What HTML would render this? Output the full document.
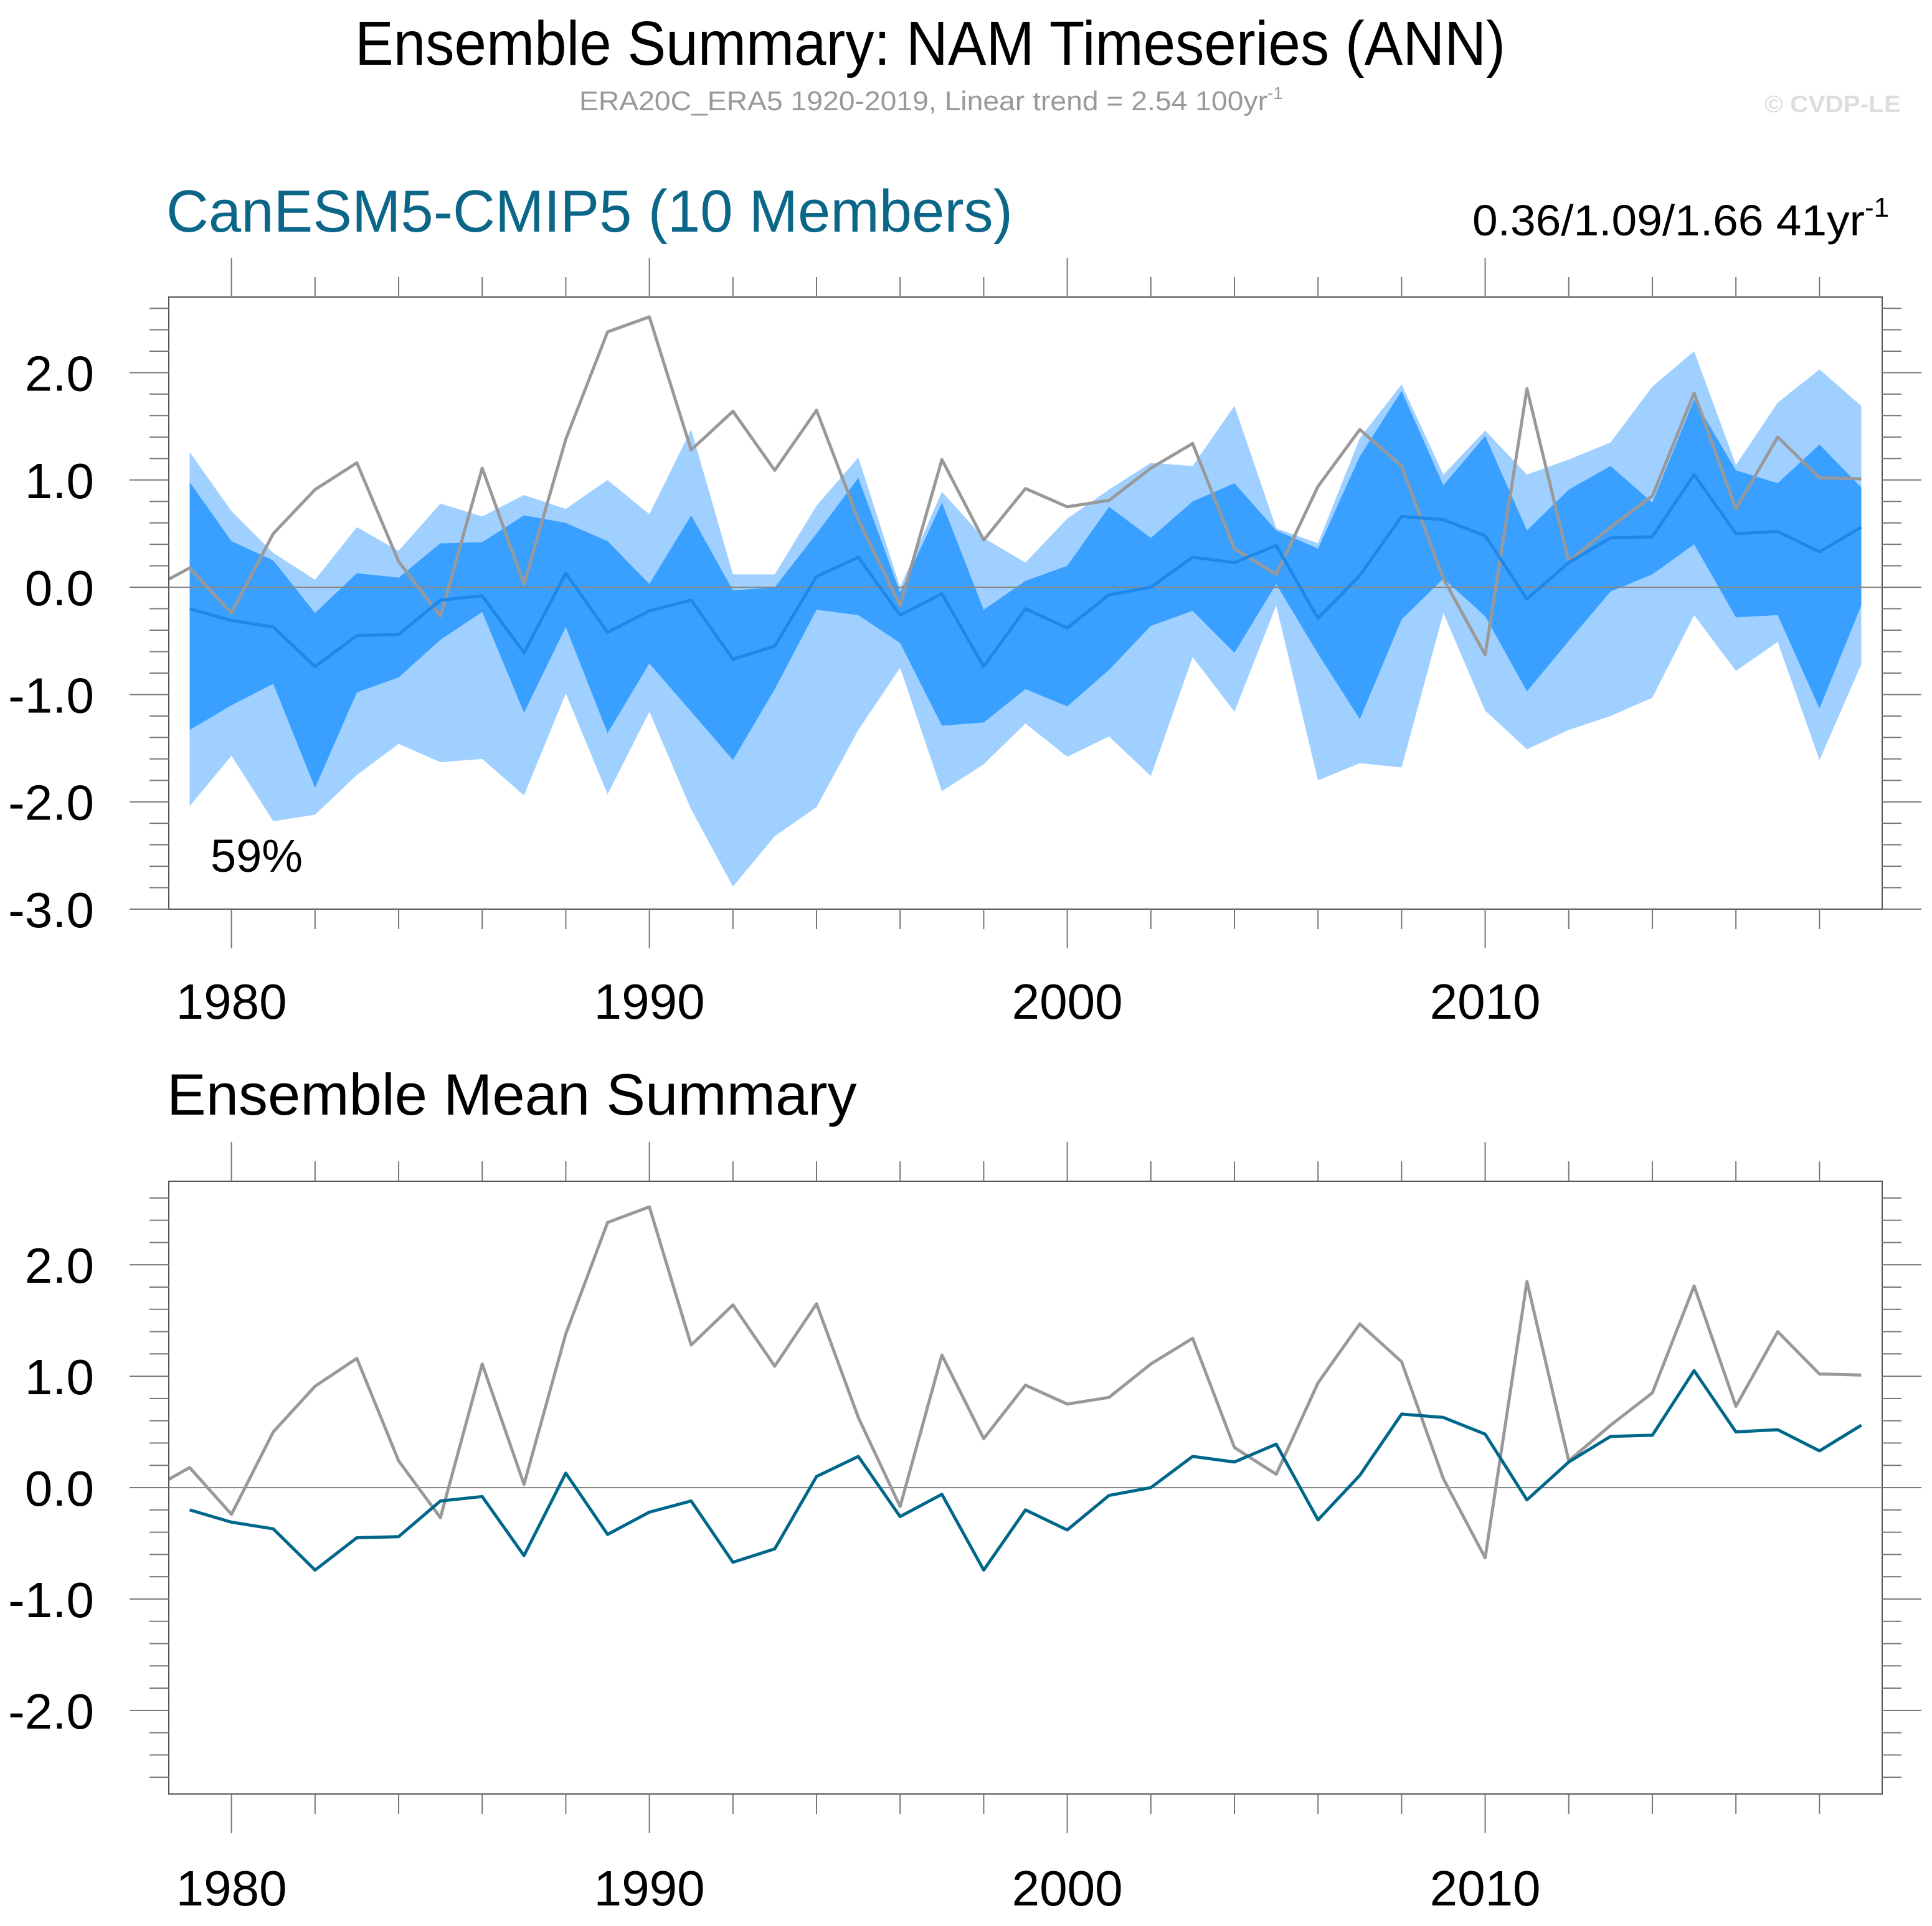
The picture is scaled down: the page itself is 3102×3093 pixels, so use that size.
<!DOCTYPE html>
<html><head><meta charset="utf-8"><style>
html,body{margin:0;padding:0;background:#fff;}
svg{display:block;font-family:"Liberation Sans",Arial,sans-serif;}
</style></head><body>
<svg id="chart" width="3102" height="3093" viewBox="0 0 3102 3093" xmlns="http://www.w3.org/2000/svg">
<text x="570" y="104" font-size="100" textLength="1847" lengthAdjust="spacingAndGlyphs" fill="#000">Ensemble Summary: NAM Timeseries (ANN)</text>
<text x="930" y="177" font-size="44" fill="#999"><tspan textLength="1105" lengthAdjust="spacingAndGlyphs">ERA20C_ERA5 1920-2019, Linear trend = 2.54 100yr</tspan><tspan dy="-18" font-size="28">-1</tspan></text>
<text x="2833" y="180" font-size="38" font-weight="bold" textLength="219" lengthAdjust="spacingAndGlyphs" fill="#ddd">© CVDP-LE</text>
<text x="267" y="372" font-size="96" textLength="1359" lengthAdjust="spacingAndGlyphs" fill="#0b6688">CanESM5-CMIP5 (10 Members)</text>
<text x="2364" y="378" font-size="70" fill="#000"><tspan textLength="630" lengthAdjust="spacingAndGlyphs">0.36/1.09/1.66 41yr</tspan><tspan dy="-30" font-size="44">-1</tspan></text>
<text x="268" y="1790" font-size="94" fill="#000">Ensemble Mean Summary</text>
<g id="top"></g>
<g id="bot"></g>
</svg>
<script>
const years = [1979,1980,1981,1982,1983,1984,1985,1986,1987,1988,1989,1990,1991,1992,1993,1994,1995,1996,1997,1998,1999,2000,2001,2002,2003,2004,2005,2006,2007,2008,2009,2010,2011,2012,2013,2014,2015,2016,2017,2018,2019];
const obsYears = [1978,1979,1980,1981,1982,1983,1984,1985,1986,1987,1988,1989,1990,1991,1992,1993,1994,1995,1996,1997,1998,1999,2000,2001,2002,2003,2004,2005,2006,2007,2008,2009,2010,2011,2012,2013,2014,2015,2016,2017,2018,2019];
const obs = [-0.03,0.18,-0.24,0.5,0.91,1.16,0.24,-0.27,1.11,0.03,1.38,2.38,2.52,1.28,1.64,1.09,1.65,0.63,-0.17,1.19,0.44,0.92,0.75,0.81,1.11,1.34,0.36,0.12,0.94,1.47,1.13,0.08,-0.63,1.85,0.24,0.56,0.85,1.81,0.73,1.40,1.02,1.01];
const ensMean = [-0.2,-0.31,-0.37,-0.74,-0.45,-0.44,-0.12,-0.08,-0.61,0.13,-0.42,-0.22,-0.12,-0.67,-0.55,0.1,0.28,-0.26,-0.06,-0.74,-0.2,-0.38,-0.07,0.0,0.28,0.23,0.39,-0.29,0.11,0.66,0.63,0.48,-0.11,0.23,0.46,0.47,1.05,0.5,0.52,0.33,0.56];
const maxBand = [1.26,0.71,0.32,0.07,0.56,0.34,0.78,0.66,0.86,0.73,1.0,0.68,1.47,0.12,0.12,0.76,1.21,0.0,0.89,0.46,0.23,0.64,0.91,1.16,1.13,1.69,0.55,0.41,1.39,1.89,1.05,1.46,1.05,1.19,1.35,1.87,2.20,1.14,1.72,2.03,1.69];
const upperBand = [0.98,0.43,0.25,-0.24,0.13,0.09,0.41,0.42,0.67,0.60,0.43,0.03,0.67,-0.03,0.0,0.5,1.02,-0.05,0.79,-0.21,0.06,0.2,0.75,0.46,0.8,0.97,0.53,0.36,1.22,1.83,0.95,1.41,0.53,0.91,1.13,0.79,1.75,1.09,0.97,1.33,0.93];
const lowerBand = [-1.33,-1.10,-0.90,-1.87,-0.98,-0.84,-0.49,-0.23,-1.17,-0.37,-1.36,-0.71,-1.16,-1.61,-0.95,-0.21,-0.26,-0.52,-1.29,-1.26,-0.95,-1.11,-0.77,-0.36,-0.22,-0.61,0.03,-0.62,-1.23,-0.30,0.08,-0.27,-0.97,-0.50,-0.04,0.12,0.40,-0.28,-0.26,-1.13,-0.17];
const minBand = [-2.04,-1.57,-2.18,-2.12,-1.75,-1.46,-1.63,-1.60,-1.94,-0.99,-1.93,-1.16,-2.07,-2.79,-2.32,-2.05,-1.33,-0.75,-1.90,-1.65,-1.27,-1.58,-1.39,-1.76,-0.65,-1.16,-0.17,-1.80,-1.64,-1.68,-0.24,-1.15,-1.51,-1.33,-1.20,-1.03,-0.26,-0.78,-0.51,-1.61,-0.72];
const yTickLabelsTop = ["-3.0","-2.0","-1.0","0.0","1.0","2.0"];
const yTickLabelsBot = ["-2.0","-1.0","0.0","1.0","2.0"];
const xTickLabels = ["1980","1990","2000","2010"];
const pctLabel = "59%";

const NS = "http://www.w3.org/2000/svg";
function mk(tag, attrs, parent){const e=document.createElementNS(NS,tag);for(const k in attrs)e.setAttribute(k,attrs[k]);parent.appendChild(e);return e;}

function panel(gid, y0, y1, ymin, ymax, yLabels, isTop, labelBaseline){
  const g=document.getElementById(gid);
  const L=271,R=3022,xmin=1978.5,xmax=2019.5;
  const X=v=>L+(v-xmin)/(xmax-xmin)*(R-L);
  const Y=v=>y1-(v-ymin)/(ymax-ymin)*(y1-y0);
  const cid='clip-'+gid;
  const cp=mk('clipPath',{id:cid},g);
  mk('rect',{x:L,y:y0,width:R-L,height:y1-y0},cp);
  const pg=mk('g',{'clip-path':'url(#'+cid+')'},g);
  if(isTop){
    let pts=years.map((yr,i)=>X(yr)+','+Y(maxBand[i]));
    pts=pts.concat(years.map((yr,i)=>X(yr)+','+Y(minBand[i])).reverse());
    const a=mk('polygon',{points:pts.join(' '),fill:'#a0d0ff'},pg);
    
    
    let p2=years.map((yr,i)=>X(yr)+','+Y(upperBand[i]));
    p2=p2.concat(years.map((yr,i)=>X(yr)+','+Y(lowerBand[i])).reverse());
    const b=mk('polygon',{points:p2.join(' '),fill:'#3aa0ff'},pg);
    
    
  }
  const z=mk('line',{x1:L,x2:R,y1:Y(0),y2:Y(0),stroke:'#888','stroke-width':2},pg);
  
  
  const o=mk('polyline',{points:obsYears.map((yr,i)=>X(yr)+','+Y(obs[i])).join(' '),fill:'none',stroke:'#999','stroke-width':5,'stroke-linejoin':'round'},pg);
  
  
  const m=mk('polyline',{points:years.map((yr,i)=>X(yr)+','+Y(ensMean[i])).join(' '),fill:'none',stroke:isTop?'#1e88e8':'#00678a','stroke-width':5,'stroke-linejoin':'round'},pg);
  
  
  const f=mk('rect',{x:L,y:y0,width:R-L,height:y1-y0,fill:'none',stroke:'#555','stroke-width':2},g);
  
  
  for(let yr=1980;yr<=2018;yr+=2){
    const maj=(yr%10===0), len=maj?63:32, x=X(yr);
    mk('line',{x1:x,x2:x,y1:y0,y2:y0-len,stroke:'#777','stroke-width':2},g);
    mk('line',{x1:x,x2:x,y1:y1,y2:y1+len,stroke:'#777','stroke-width':2},g);
  }
  xTickLabels.forEach(lb=>{
    const t=mk('text',{x:X(+lb),y:labelBaseline,'font-size':80,'text-anchor':'middle',fill:'#000'},g);
    t.textContent=lb;
    
    
  });
  for(let k=Math.ceil(ymin*5-1e-6);k<=Math.floor(ymax*5+1e-6);k++){
    const v=k/5, maj=(k%5===0), len=maj?63:31, y=Y(v);
    mk('line',{x1:L,x2:L-len,y1:y,y2:y,stroke:'#777','stroke-width':2},g);
    mk('line',{x1:R,x2:R+len,y1:y,y2:y,stroke:'#777','stroke-width':2},g);
  }
  yLabels.forEach(lb=>{
    const t=mk('text',{x:151,y:Y(+lb)+29,'font-size':80,'text-anchor':'end',fill:'#000'},g);
    t.textContent=lb;
    
    
  });
  if(isTop){
    const t=mk('text',{x:338,y:1400,'font-size':74,fill:'#000'},g);
    t.textContent=pctLabel;
    
    
  }
}
panel('top',477,1460,-3.0,2.705,yTickLabelsTop,true,1636);
panel('bot',1897,2881,-2.75,2.75,yTickLabelsBot,false,3060);
</script>
</body></html>
